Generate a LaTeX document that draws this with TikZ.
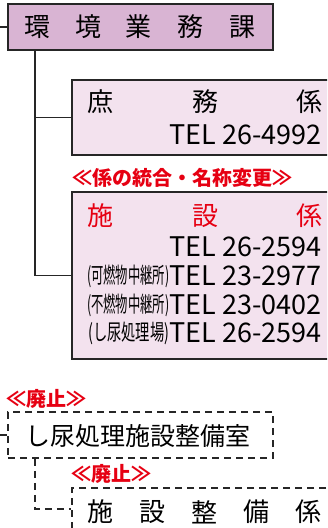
\documentclass[tikz,border=0pt]{standalone}
\usepackage{fontspec}
\setmainfont{Noto Sans CJK JP}
\usetikzlibrary{calc}
\definecolor{topc}{RGB}{217,180,211}
\definecolor{lightc}{RGB}{243,226,238}
\definecolor{redc}{RGB}{230,0,18}
\begin{document}
\begin{tikzpicture}[x=1pt,y=-1pt,
  box/.style={draw=black!85,line width=1.8pt,inner sep=0pt},
  dbox/.style={draw=black!85,line width=1.8pt,dash pattern=on 7pt off 5pt,inner sep=0pt},
  conn/.style={draw=black!85,line width=1.8pt},
  dconn/.style={draw=black!85,line width=1.8pt,dash pattern=on 7pt off 5pt},
  ch/.style={inner sep=0pt,font=\fontsize{26}{26}\selectfont},
  tel/.style={inner sep=0pt,anchor=east,font=\fontsize{27}{27}\selectfont},
  small/.style={inner sep=0pt,anchor=east,font=\fontsize{22}{22}\selectfont},
  redlab/.style={inner sep=0pt,anchor=west,text=redc,font=\fontsize{20}{20}\selectfont\bfseries}]
\useasboundingbox (0,0) rectangle (327,528);
\begin{scope}
\clip (0,0) rectangle (327,528);
\coordinate (v) at (35,0);
% boxes
\node[box,fill=topc,minimum width=265pt,minimum height=46pt] (ka) at (140.5,27) {};
\node[box,fill=lightc,minimum width=268pt,minimum height=75pt] (shomu) at (206,117.5) {};
\node[box,fill=lightc,minimum width=268pt,minimum height=167pt] (shisetsu) at (206,275.5) {};
\node[dbox,minimum width=265pt,minimum height=46pt] (shitsu) at (140.5,435) {};
\node[dbox,minimum width=268pt,minimum height=42pt] (seibi) at (206,509) {};
% connectors
\draw[conn] (ka.west) -- ++(-10,0) coordinate (kastub);
\draw[conn] (ka.south -| v) |- (shomu.west);
\draw[conn] (ka.south -| v) |- (shisetsu.west);
\draw[dconn] (shitsu.west) -- ++(-10,0) coordinate (shstub);
\draw[dconn] (shitsu.south -| v) |- (seibi.west);
% top box text
\node[ch] (k1) at (37.5,27) {環};
\node[ch] (k2) at (88,27) {境};
\node[ch] (k3) at (138,27) {業};
\node[ch] (k4) at (190,27) {務};
\node[ch] (k5) at (242,27) {課};
% shomu
\node[ch] (s1) at (100.5,102) {庶};
\node[ch] (s2) at (205.5,102) {務};
\node[ch] (s3) at (309.5,102) {係};
\node[tel] (t0) at (322,135) {TEL 26-4992};
% red label
\node[redlab] (lab1) at (72,178) {≪係の統合・名称変更≫};
% shisetsu
\node[ch,text=redc] (h1) at (100.5,216) {施};
\node[ch,text=redc] (h2) at (205.5,216) {設};
\node[ch,text=redc] (h3) at (309.5,216) {係};
\node[tel] (t1) at (322,247) {TEL 26-2594};
\node[tel] (t2) at (322,276) {TEL 23-2977};
\node[tel] (t3) at (322,305) {TEL 23-0402};
\node[tel] (t4) at (322,333) {TEL 26-2594};
\node[small] (p2) at (t2.west) {\scalebox{0.56}[1]{(可燃物中継所)}};
\node[small] (p3) at (t3.west) {\scalebox{0.56}[1]{(不燃物中継所)}};
\node[small] (p4) at (t4.west) {\scalebox{0.65}[1]{(し尿処理場)}};
% abolished
\node[redlab] (lab2) at (6,399) {≪廃止≫};
\node[ch,anchor=west,font=\fontsize{25}{25}\selectfont] (shtext) at (25,436) {し尿処理施設整備室};
\node[redlab] (lab3) at (71,474) {≪廃止≫};
\node[ch] (e1) at (100.5,512) {施};
\node[ch] (e2) at (152,512) {設};
\node[ch] (e3) at (204.5,512) {整};
\node[ch] (e4) at (256.5,512) {備};
\node[ch] (e5) at (308.5,512) {係};
\end{scope}
\end{tikzpicture}
\end{document}
